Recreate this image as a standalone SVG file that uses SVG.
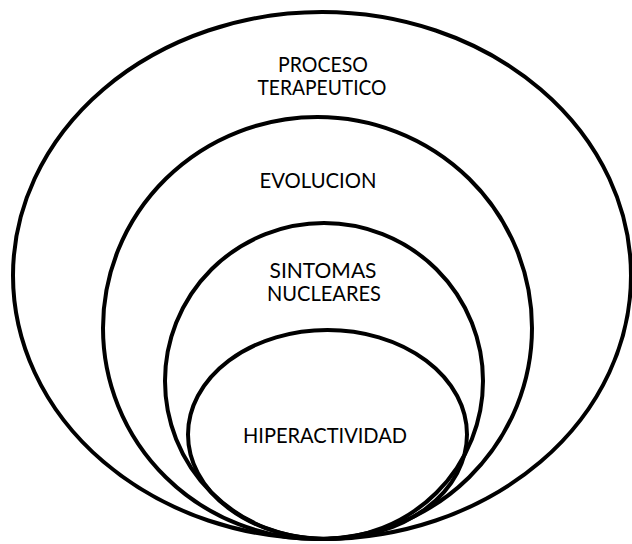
<svg xmlns="http://www.w3.org/2000/svg" width="632" height="544" viewBox="0 0 632 544">
<style>
.e{fill:none;stroke:#000;stroke-width:4}
.t{font-family:Lato,"Liberation Sans",sans-serif;font-size:21px;fill:#000;text-anchor:middle}
</style>
<rect width="632" height="544" fill="#fff"/>
<g id="proceso">
<ellipse class="e" cx="322" cy="275.5" rx="309" ry="263.5"/>
<text class="t" x="323" y="72" textLength="90" lengthAdjust="spacingAndGlyphs">PROCESO</text>
<text class="t" x="322" y="95" textLength="129" lengthAdjust="spacingAndGlyphs">TERAPEUTICO</text>
</g>
<g id="evolucion">
<ellipse class="e" cx="317.5" cy="328" rx="214.5" ry="211"/>
<text class="t" x="318" y="188" textLength="117" lengthAdjust="spacingAndGlyphs">EVOLUCION</text>
</g>
<g id="sintomas">
<ellipse class="e" cx="324" cy="381" rx="159" ry="158"/>
<text class="t" x="323" y="278" textLength="107" lengthAdjust="spacingAndGlyphs">SINTOMAS</text>
<text class="t" x="324" y="301" textLength="114" lengthAdjust="spacingAndGlyphs">NUCLEARES</text>
</g>
<g id="hiperactividad">
<ellipse class="e" cx="327.5" cy="434.5" rx="139.5" ry="104.5"/>
<text class="t" x="325" y="443" textLength="164" lengthAdjust="spacingAndGlyphs">HIPERACTIVIDAD</text>
</g>
<g id="connectors"/>
</svg>
